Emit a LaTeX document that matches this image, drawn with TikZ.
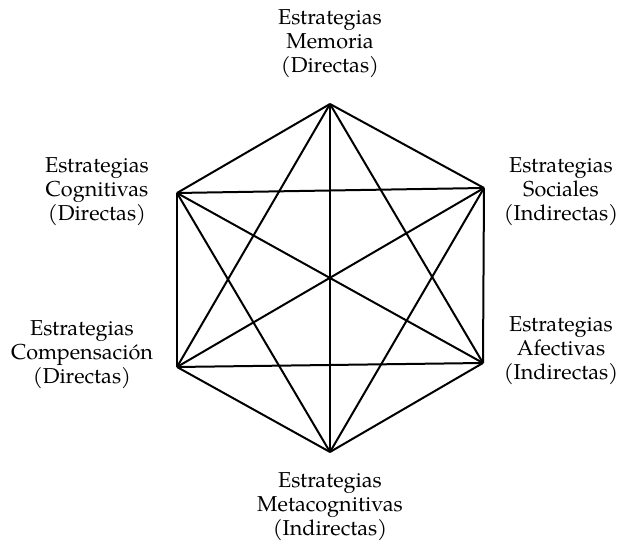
\documentclass[tikz,border=0pt]{standalone}
\usepackage{fontspec}
\setmainfont{TeX Gyre Pagella}
\usetikzlibrary{calc}
\tikzset{lbl/.style={align=center,inner sep=0pt,font=\fontsize{10.8}{12}\selectfont}}

\begin{document}
\begin{tikzpicture}[x=0.5pt,y=-0.5pt,line join=round,line width=1pt]
\useasboundingbox (0,0) rectangle (618,544);
% --- corners of the hexagon
\coordinate (mem) at (330,104);
\coordinate (soc) at (484,188);
\coordinate (afe) at (483,363);
\coordinate (met) at (330,452);
\coordinate (com) at (177,367);
\coordinate (cog) at (177,193);
% --- labels
\node[lbl] (tmem) at (330,44) {Estrategias\\Memoria\\(Directas)};
\node[lbl] (tsoc) at (561,192) {Estrategias\\Sociales\\(Indirectas)};
\node[lbl] (tafe) at (561,351) {Estrategias\\Afectivas\\(Indirectas)};
\node[lbl] (tmet) at (330,507) {Estrategias\\Metacognitivas\\(Indirectas)};
\node[lbl] (tcom) at (82,355) {Estrategias\\Compensación\\(Directas)};
\node[lbl] (tcog) at (97,192) {Estrategias\\Cognitivas\\(Directas)};
% --- every corner joined to every other one
\foreach \a/\b in {mem/soc,mem/afe,mem/met,mem/com,mem/cog,
                   soc/afe,soc/met,soc/com,soc/cog,
                   afe/met,afe/com,afe/cog,
                   met/com,met/cog,
                   com/cog}
  \draw (\a) -- (\b);
\end{tikzpicture}
\end{document}
